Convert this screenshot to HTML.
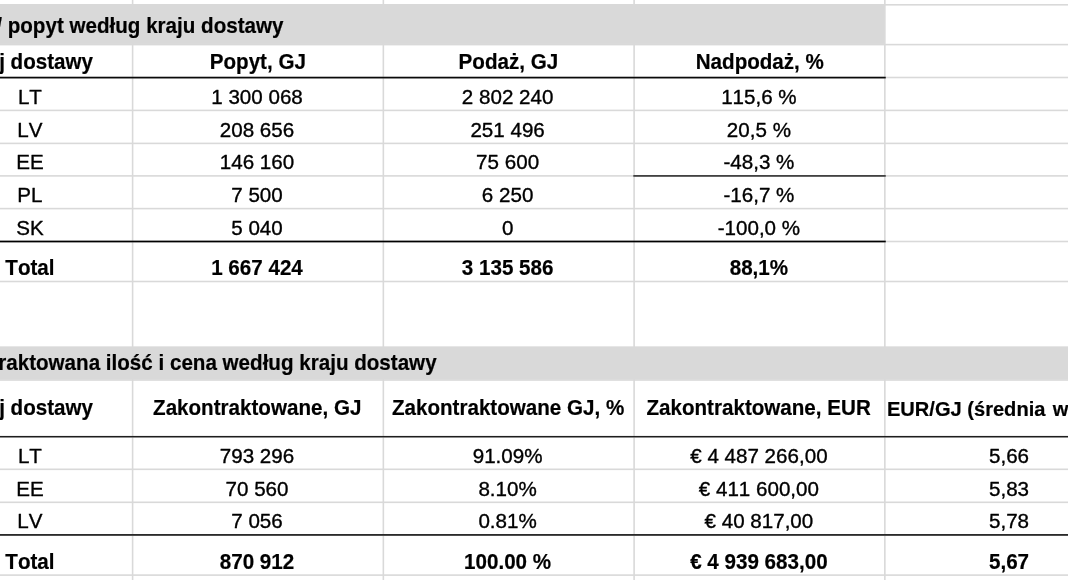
<!DOCTYPE html>
<html lang="pl"><head><meta charset="utf-8"><title>Arkusz</title>
<style>
html,body{margin:0;padding:0;background:#fff;overflow:hidden}
body{width:1068px;height:580px;position:relative;font-family:"Liberation Sans",Arial,Helvetica,sans-serif}
svg{display:block;position:absolute;left:0;top:0}
</style></head><body>
<svg width="1068" height="580" viewBox="0 0 1068 580">
<rect x="0" y="0" width="1068" height="580" fill="#fff"/>
<g fill="#d9d9d9">
<rect x="0" y="4.00" width="1068" height="1.6"/>
<rect x="0" y="43.80" width="1068" height="1.6"/>
<rect x="0" y="76.70" width="1068" height="1.6"/>
<rect x="0" y="109.60" width="1068" height="1.6"/>
<rect x="0" y="142.60" width="1068" height="1.6"/>
<rect x="0" y="175.10" width="1068" height="1.6"/>
<rect x="0" y="207.80" width="1068" height="1.6"/>
<rect x="0" y="240.70" width="1068" height="1.6"/>
<rect x="0" y="280.70" width="1068" height="1.6"/>
<rect x="0" y="379.20" width="1068" height="1.6"/>
<rect x="0" y="435.90" width="1068" height="1.6"/>
<rect x="0" y="468.50" width="1068" height="1.6"/>
<rect x="0" y="501.50" width="1068" height="1.6"/>
<rect x="0" y="534.20" width="1068" height="1.6"/>
<rect x="0" y="574.30" width="1068" height="1.6"/>
<rect x="131.80" y="0" width="1.6" height="580"/>
<rect x="382.55" y="0" width="1.6" height="580"/>
<rect x="633.30" y="0" width="1.6" height="580"/>
<rect x="884.05" y="0" width="1.6" height="580"/>
</g>
<g fill="#d9d9d9">
<rect x="0" y="4.05" width="884.15" height="39.9"/>
<rect x="0" y="346.35" width="1068" height="33.2"/>
</g>
<rect x="0.00" y="76.75" width="885.75" height="1.7" fill="#0a0a0a"/>
<rect x="633.30" y="175.05" width="252.45" height="1.7" fill="#3a3a3a"/>
<rect x="0.00" y="240.65" width="885.75" height="1.7" fill="#000"/>
<rect x="0.00" y="435.95" width="1068.00" height="1.5" fill="#1e1e1e"/>
<rect x="0.00" y="534.00" width="1068.00" height="1.8" fill="#2a2a2a"/>
<g font-family="Liberation Sans, Arial, Helvetica, sans-serif" font-size="20.6px" fill="#000" stroke="#000" stroke-width="0.35" stroke-linejoin="round" style="font-kerning:none">
<text transform="translate(283.50,33.00) scale(1,1.03)" text-anchor="end" font-weight="bold" stroke-width="0.2">Podaż / popyt według kraju dostawy</text>
<text transform="translate(93.00,69.10) scale(1,1.03)" text-anchor="end" font-weight="bold" stroke-width="0.2">Kraj dostawy</text>
<text transform="translate(257.80,69.10) scale(1,1.03)" text-anchor="middle" font-weight="bold" stroke-width="0.2">Popyt, GJ</text>
<text transform="translate(508.40,69.10) scale(1,1.03)" text-anchor="middle" font-weight="bold" stroke-width="0.2">Podaż, GJ</text>
<text transform="translate(759.80,69.10) scale(1,1.03)" text-anchor="middle" font-weight="bold" stroke-width="0.2">Nadpodaż, %</text>
<text transform="translate(29.90,103.60) scale(1,1.025)" text-anchor="middle">LT</text>
<text transform="translate(257.00,103.60) scale(1,1.025)" text-anchor="middle">1 300 068</text>
<text transform="translate(507.60,103.60) scale(1,1.025)" text-anchor="middle">2 802 240</text>
<text transform="translate(758.90,103.60) scale(1,1.025)" text-anchor="middle">115,6 %</text>
<text transform="translate(29.90,136.60) scale(1,1.025)" text-anchor="middle">LV</text>
<text transform="translate(257.00,136.60) scale(1,1.025)" text-anchor="middle">208 656</text>
<text transform="translate(507.60,136.60) scale(1,1.025)" text-anchor="middle">251 496</text>
<text transform="translate(758.90,136.60) scale(1,1.025)" text-anchor="middle">20,5 %</text>
<text transform="translate(29.90,169.10) scale(1,1.025)" text-anchor="middle">EE</text>
<text transform="translate(257.00,169.10) scale(1,1.025)" text-anchor="middle">146 160</text>
<text transform="translate(507.60,169.10) scale(1,1.025)" text-anchor="middle">75 600</text>
<text transform="translate(758.90,169.10) scale(1,1.025)" text-anchor="middle">-48,3 %</text>
<text transform="translate(29.90,201.80) scale(1,1.025)" text-anchor="middle">PL</text>
<text transform="translate(257.00,201.80) scale(1,1.025)" text-anchor="middle">7 500</text>
<text transform="translate(507.60,201.80) scale(1,1.025)" text-anchor="middle">6 250</text>
<text transform="translate(758.90,201.80) scale(1,1.025)" text-anchor="middle">-16,7 %</text>
<text transform="translate(29.90,234.70) scale(1,1.025)" text-anchor="middle">SK</text>
<text transform="translate(257.00,234.70) scale(1,1.025)" text-anchor="middle">5 040</text>
<text transform="translate(507.60,234.70) scale(1,1.025)" text-anchor="middle">0</text>
<text transform="translate(758.90,234.70) scale(1,1.025)" text-anchor="middle">-100,0 %</text>
<text transform="translate(29.90,274.70) scale(1,1.03)" text-anchor="middle" font-weight="bold" stroke-width="0.2">Total</text>
<text transform="translate(257.00,274.70) scale(1,1.03)" text-anchor="middle" font-weight="bold" stroke-width="0.2">1 667 424</text>
<text transform="translate(507.60,274.70) scale(1,1.03)" text-anchor="middle" font-weight="bold" stroke-width="0.2">3 135 586</text>
<text transform="translate(758.90,274.70) scale(1,1.03)" text-anchor="middle" font-weight="bold" stroke-width="0.2">88,1%</text>
<text transform="translate(436.60,370.10) scale(1,1.03)" text-anchor="end" font-weight="bold" stroke-width="0.2">Zakontraktowana ilość i cena według kraju dostawy</text>
<text transform="translate(93.00,414.60) scale(1,1.03)" text-anchor="end" font-weight="bold" stroke-width="0.2">Kraj dostawy</text>
<text transform="translate(257.20,414.60) scale(1,1.03)" text-anchor="middle" font-weight="bold" stroke-width="0.2">Zakontraktowane, GJ</text>
<text transform="translate(508.10,414.60) scale(1,1.03)" text-anchor="middle" font-weight="bold" stroke-width="0.2">Zakontraktowane GJ, %</text>
<text transform="translate(758.60,414.60) scale(1,1.03)" text-anchor="middle" font-weight="bold" stroke-width="0.2">Zakontraktowane, EUR</text>
<text transform="translate(886.90,416.20) scale(1,1.03)" text-anchor="start" font-weight="bold" stroke-width="0.2" font-size="20.1px">EUR/GJ (średnia <tspan dx="1.7">ważona)</tspan></text>
<text transform="translate(29.90,462.50) scale(1,1.025)" text-anchor="middle">LT</text>
<text transform="translate(257.00,462.50) scale(1,1.025)" text-anchor="middle">793 296</text>
<text transform="translate(507.60,462.50) scale(1,1.025)" text-anchor="middle">91.09%</text>
<text transform="translate(758.90,462.50) scale(1,1.025)" text-anchor="middle">€ 4 487 266,00</text>
<text transform="translate(1009.00,462.50) scale(1,1.025)" text-anchor="middle">5,66</text>
<text transform="translate(29.90,495.50) scale(1,1.025)" text-anchor="middle">EE</text>
<text transform="translate(257.00,495.50) scale(1,1.025)" text-anchor="middle">70 560</text>
<text transform="translate(507.60,495.50) scale(1,1.025)" text-anchor="middle">8.10%</text>
<text transform="translate(758.90,495.50) scale(1,1.025)" text-anchor="middle">€ 411 600,00</text>
<text transform="translate(1009.00,495.50) scale(1,1.025)" text-anchor="middle">5,83</text>
<text transform="translate(29.90,528.20) scale(1,1.025)" text-anchor="middle">LV</text>
<text transform="translate(257.00,528.20) scale(1,1.025)" text-anchor="middle">7 056</text>
<text transform="translate(507.60,528.20) scale(1,1.025)" text-anchor="middle">0.81%</text>
<text transform="translate(758.90,528.20) scale(1,1.025)" text-anchor="middle">€ 40 817,00</text>
<text transform="translate(1009.00,528.20) scale(1,1.025)" text-anchor="middle">5,78</text>
<text transform="translate(29.90,569.20) scale(1,1.03)" text-anchor="middle" font-weight="bold" stroke-width="0.2">Total</text>
<text transform="translate(257.00,569.20) scale(1,1.03)" text-anchor="middle" font-weight="bold" stroke-width="0.2">870 912</text>
<text transform="translate(507.60,569.20) scale(1,1.03)" text-anchor="middle" font-weight="bold" stroke-width="0.2">100.00 %</text>
<text transform="translate(758.90,569.20) scale(1,1.03)" text-anchor="middle" font-weight="bold" stroke-width="0.2">€ 4 939 683,00</text>
<text transform="translate(1009.00,569.20) scale(1,1.03)" text-anchor="middle" font-weight="bold" stroke-width="0.2">5,67</text>
</g>
</svg>
</body></html>
